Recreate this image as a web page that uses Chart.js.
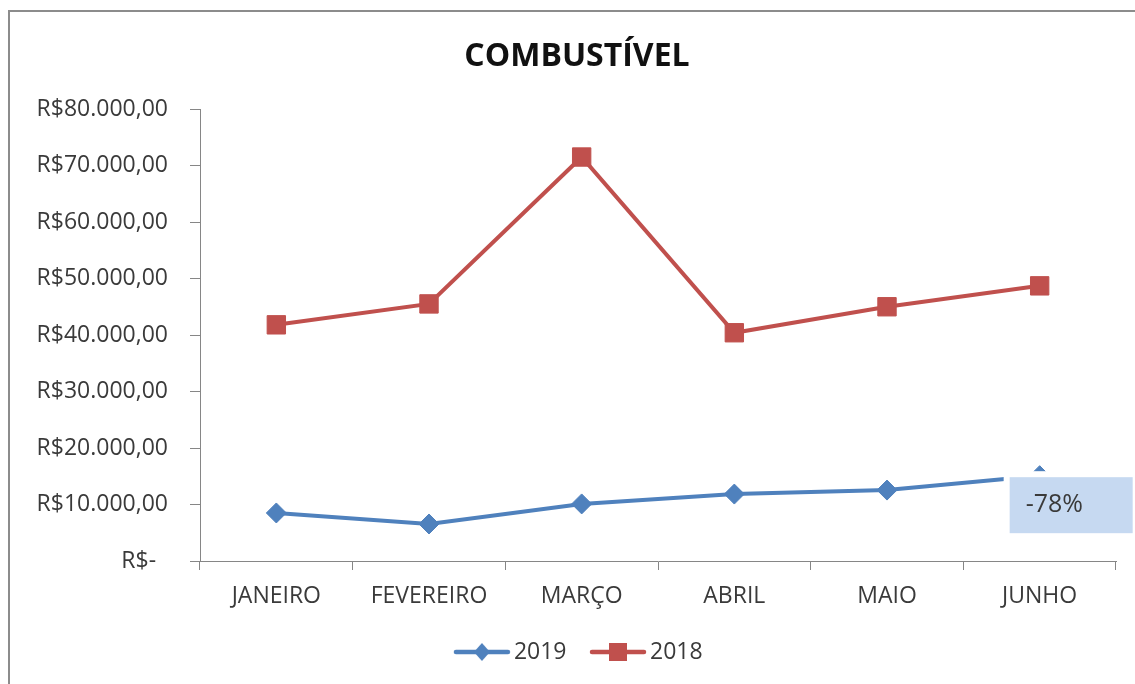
<!DOCTYPE html>
<html><head><meta charset="utf-8">
<script src="https://cdn.jsdelivr.net/npm/chart.js@4.4.0/dist/chart.umd.min.js"></script>
<style>html,body{margin:0;padding:0;background:#fff;} #wrap{width:1135px;height:684px;position:relative;}</style>
</head><body><div id="wrap"><canvas id="c" width="1135" height="684"></canvas></div>
<script>
const categories = ['JANEIRO', 'FEVEREIRO', 'MARÇO', 'ABRIL', 'MAIO', 'JUNHO'];
const values2019 = [8500, 6550, 10100, 11850, 12550, 15100];
const values2018 = [41800, 45500, 71500, 40400, 45000, 48700];
const seriesNames = ['2019', '2018'];
const chartTitle = 'COMBUSTÍVEL';
const changeLabel = '-78%';
const yMin = 0, yMax = 80000, yStep = 10000;

const FONT = '"Open Sans", "Noto Sans", sans-serif';
const BLUE = '#4F81BD', RED = '#C0504D', AXIS = '#868686', TXT = '#3a3a3a';

function fmtBRL(v) {
  if (v === 0) return 'R$-  ';
  const int = Math.round(v).toString().replace(/\B(?=(\d{3})+(?!\d))/g, '.');
  return 'R$' + int + ',00';
}

function legendIcon(color, style) {
  const c = document.createElement('canvas');
  c.width = 58; c.height = 22;
  const g = c.getContext('2d');
  g.strokeStyle = color; g.lineWidth = 4.5; g.lineCap = 'round';
  g.beginPath(); g.moveTo(3, 11); g.lineTo(55, 11); g.stroke();
  g.fillStyle = color;
  if (style === 'diamond') {
    g.beginPath(); g.moveTo(29, 2); g.lineTo(37, 11); g.lineTo(29, 20); g.lineTo(21, 11); g.closePath(); g.fill();
  } else {
    g.fillRect(20, 2, 18, 18);
  }
  return c;
}

const framePlugin = {
  id: 'frame',
  beforeDraw(chart) {
    const ctx = chart.ctx;
    ctx.save();
    ctx.fillStyle = '#fff';
    ctx.fillRect(0, 0, chart.width, chart.height);
    ctx.strokeStyle = '#8c8c8c';
    ctx.lineWidth = 2;
    ctx.beginPath();
    ctx.moveTo(9, chart.height + 5); ctx.lineTo(9, 11); ctx.lineTo(chart.width + 5, 11);
    ctx.stroke();
    ctx.restore();
  }
};

const legendShiftPlugin = {
  id: 'legendShift',
  afterLayout(chart) {
    if (chart.legend) { chart.legend.left += 5; chart.legend.right += 5; }
  }
};

const changeLabelPlugin = {
  id: 'changeLabel',
  afterDatasetsDraw(chart) {
    const meta = chart.getDatasetMeta(0);
    const pt = meta.data[meta.data.length - 1];
    const ctx = chart.ctx;
    ctx.save();
    const bx = pt.x - 30, by = pt.y + 1.5, bw = 123, bh = 56;
    ctx.fillStyle = '#ffffff';
    ctx.fillRect(bx - 6, by - 6, bw + 12, bh + 12);
    ctx.fillStyle = '#C6D9F1';
    ctx.fillRect(bx, by, bw, bh);
    ctx.fillStyle = TXT;
    ctx.font = '25px ' + FONT;
    ctx.textBaseline = 'middle';
    ctx.textAlign = 'left';
    ctx.fillText(changeLabel, bx + 16, by + bh / 2);
    ctx.restore();
  }
};

new Chart(document.getElementById('c'), {
  type: 'line',
  data: {
    labels: categories,
    datasets: [
      {
        label: seriesNames[0], data: values2019,
        borderColor: BLUE, backgroundColor: BLUE, borderWidth: 4,
        pointStyle: 'rectRot', pointRadius: 10, pointBorderWidth: 1,
        pointBackgroundColor: BLUE, pointBorderColor: BLUE, tension: 0
      },
      {
        label: seriesNames[1], data: values2018,
        borderColor: RED, backgroundColor: RED, borderWidth: 4,
        pointStyle: 'rect', pointRadius: 13, pointBorderWidth: 1,
        pointBackgroundColor: RED, pointBorderColor: RED, tension: 0
      }
    ]
  },
  options: {
    responsive: false,
    animation: false,
    devicePixelRatio: 1,
    events: [],
    layout: { padding: { left: 38, right: 19, top: 0, bottom: 10.5 } },
    plugins: {
      tooltip: { enabled: false },
      title: {
        display: true, text: chartTitle, color: '#111',
        font: { family: FONT, size: 32, weight: 'bold', lineHeight: 1.2 },
        padding: { top: 38, bottom: 32.6 }
      },
      legend: {
        position: 'bottom',
        labels: {
          usePointStyle: true,
          pointStyleWidth: 41,
          padding: 31,
          color: TXT,
          font: { family: FONT, size: 23 },
          generateLabels(chart) {
            return chart.data.datasets.map((ds, i) => ({
              text: ds.label,
              fillStyle: ds.borderColor,
              strokeStyle: ds.borderColor,
              lineWidth: 0,
              pointStyle: legendIcon(ds.borderColor, i === 0 ? 'diamond' : 'square'),
              hidden: false,
              datasetIndex: i,
              fontColor: TXT
            }));
          }
        }
      }
    },
    scales: {
      x: {
        type: 'category',
        offset: true,
        grid: { offset: true, drawOnChartArea: false, drawTicks: true, tickLength: 9, color: AXIS, lineWidth: 1 },
        border: { display: true, color: AXIS, width: 1 },
        ticks: { color: TXT, font: { family: FONT, size: 23 }, padding: 13, maxRotation: 0, autoSkip: false },
        afterFit(scale) { scale.height = 48.5; }
      },
      y: {
        min: yMin, max: yMax,
        grid: { drawOnChartArea: false, drawTicks: true, tickLength: 10, color: AXIS, lineWidth: 1 },
        border: { display: true, color: AXIS, width: 1 },
        ticks: {
          stepSize: yStep, color: TXT, font: { family: FONT, size: 23 }, padding: 22,
          callback: (v) => fmtBRL(v)
        },
        afterFit(scale) { scale.width = 162; }
      }
    }
  },
  plugins: [framePlugin, legendShiftPlugin, changeLabelPlugin]
});
</script></body></html>
